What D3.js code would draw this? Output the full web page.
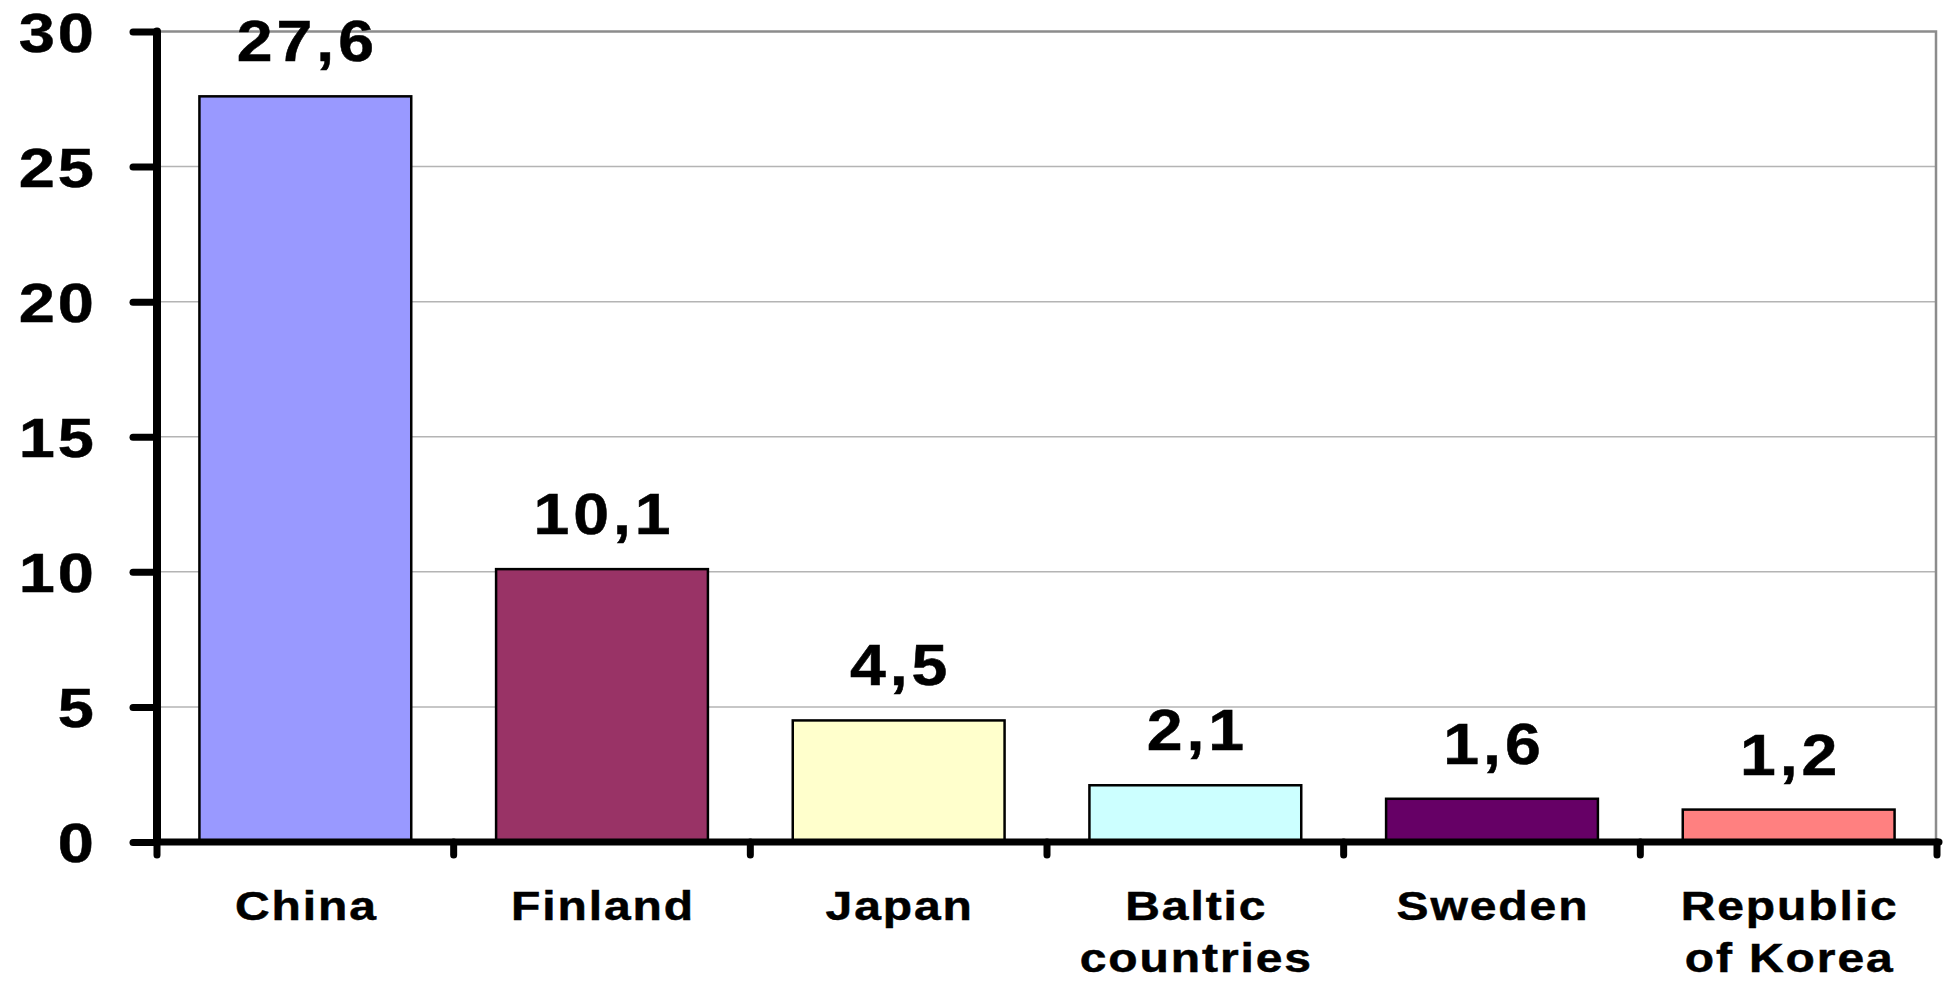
<!DOCTYPE html>
<html>
<head>
<meta charset="utf-8">
<script src="https://cdn.jsdelivr.net/npm/d3@7"></script>
<style>
  html, body { margin: 0; padding: 0; background: #ffffff; }
  svg { display: block; }
  text { font-family: "Liberation Sans", Arial, sans-serif; font-weight: bold; fill: #000; stroke: #000; stroke-width: 0.5px; }
</style>
</head>
<body>
<svg id="chart" width="1948" height="983"></svg>
<script>
const categories = ["China", "Finland", "Japan", "Baltic countries", "Sweden", "Republic of Korea"];
const categoryLines = [["China"], ["Finland"], ["Japan"], ["Baltic", "countries"], ["Sweden"], ["Republic", "of Korea"]];
const values = [27.6, 10.1, 4.5, 2.1, 1.6, 1.2];
const valueLabels = ["27,6", "10,1", "4,5", "2,1", "1,6", "1,2"];
const colors = ["#9999FF", "#993366", "#FFFFCC", "#CCFFFF", "#660066", "#FF8080"];
const yTicks = [0, 5, 10, 15, 20, 25, 30];

(function () {
const svg = d3.select("#chart");
const pLeft = 157, pRight = 1937, pTop = 31.5, pBottom = 842;
const sx = 1.18;

const y = d3.scaleLinear().domain([0, 30]).range([pBottom, pTop]);
const x = d3.scaleBand().domain(categories).range([pLeft, pRight])
  .paddingInner(0.286).paddingOuter(0.143);

// gridlines
svg.append("g").selectAll("line").data(yTicks.filter(t => t > 0 && t < 30)).join("line")
  .attr("x1", pLeft).attr("x2", pRight)
  .attr("y1", d => y(d)).attr("y2", d => y(d))
  .attr("stroke", "#b4b4b4").attr("stroke-width", 1.5);

// plot border (top and right)
svg.append("path")
  .attr("d", `M${pLeft},${y(30)}H${pRight - 1}V${y(0)}`)
  .attr("fill", "none").attr("stroke", "#8c8c8c").attr("stroke-width", 2.5);

// bars
svg.append("g").selectAll("rect").data(categories).join("rect")
  .attr("x", d => x(d))
  .attr("y", (d, i) => y(values[i]))
  .attr("width", x.bandwidth())
  .attr("height", (d, i) => y(0) - y(values[i]))
  .attr("fill", (d, i) => colors[i])
  .attr("stroke", "#000").attr("stroke-width", 2.5);

// value labels
svg.append("g").selectAll("text").data(categories).join("text")
  .attr("transform", (d, i) => `translate(${x(d) + x.bandwidth() / 2 + 2},${y(values[i]) - 35}) scale(1.13,1)`)
  .attr("text-anchor", "middle")
  .style("font-size", "57px")
  .style("letter-spacing", "3.5px")
  .text((d, i) => valueLabels[i]);

// y axis
const yAxis = d3.axisLeft(y).tickValues(yTicks).tickSize(24).tickSizeOuter(0).tickFormat(d3.format("d"));
const gy = svg.append("g").attr("transform", `translate(${pLeft},0)`).call(yAxis);
gy.attr("font-family", null).attr("font-size", null);
gy.select(".domain").attr("stroke", "#000").attr("stroke-width", 8).attr("stroke-linecap", "round")
  .attr("d", `M0,${y(0)}V${y(30)}`);
gy.selectAll(".tick line").attr("stroke", "#000").attr("stroke-width", 7).attr("stroke-linecap", "round");
gy.selectAll(".tick text")
  .attr("x", -51)
  .attr("dy", "0.36em")
  .attr("fill", "#000")
  .attr("transform", `scale(${sx},1)`)
  .style("font-size", "55px")
  .style("letter-spacing", "2.5px");

// x axis line
const gap = x.step() - x.bandwidth();
const bounds = categories.map(c => x(c) - gap / 2).concat([pRight]);
svg.append("line")
  .attr("x1", pLeft).attr("x2", pRight + 2)
  .attr("y1", y(0)).attr("y2", y(0))
  .attr("stroke", "#000").attr("stroke-width", 7).attr("stroke-linecap", "round");
svg.append("g").selectAll("line").data(bounds).join("line")
  .attr("x1", d => d).attr("x2", d => d)
  .attr("y1", y(0)).attr("y2", y(0) + 13)
  .attr("stroke", "#000").attr("stroke-width", 7).attr("stroke-linecap", "round");

// category labels
const cg = svg.append("g").selectAll("text").data(categories).join("text")
  .attr("transform", d => `translate(${x(d) + x.bandwidth() / 2 + 1},920) scale(1.2,1)`)
  .attr("text-anchor", "middle")
  .style("font-size", "40px")
  .style("letter-spacing", "1.6px");
cg.each(function (d, i) {
  const t = d3.select(this);
  categoryLines[i].forEach((line, j) => {
    t.append("tspan")
      .attr("x", 0)
      .attr("y", j * 52)
      .text(line);
  });
});
})();
</script>
</body>
</html>
